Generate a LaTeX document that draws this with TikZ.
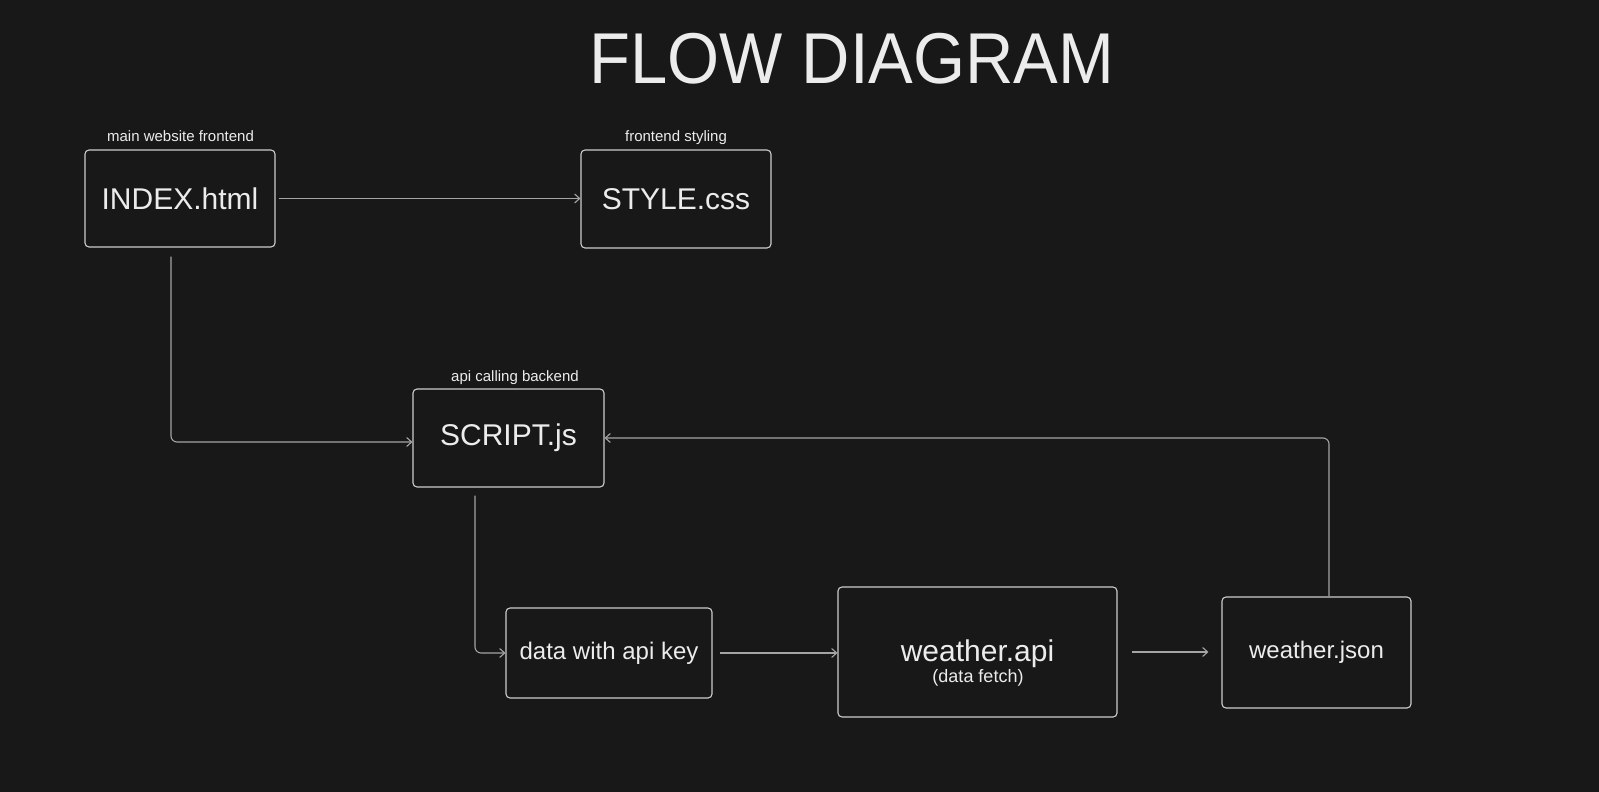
\documentclass[tikz,border=0pt]{standalone}
\usepackage{fontspec}
\setmainfont{Liberation Sans}
\usetikzlibrary{arrows.meta}
\definecolor{bg}{RGB}{24,24,24}
\definecolor{boxline}{RGB}{205,205,205}
\definecolor{arrowline}{RGB}{165,165,165}
\definecolor{txt}{RGB}{236,236,236}
\begin{document}
\begin{tikzpicture}[x=1pt,y=-1pt,
  box/.style={draw=boxline, line width=1.1pt, rounded corners=4pt, inner sep=0pt, text=txt, font=\fontsize{30}{30}\selectfont},
  smallbox/.style={box, font=\fontsize{24}{24}\selectfont},
  conn/.style={draw=arrowline, line width=1.1pt, rounded corners=6pt, -{Straight Barb[length=5pt,width=9pt]}},
  lbl/.style={text=txt, font=\fontsize{15}{15}\selectfont, anchor=base, inner sep=0pt},
]
\fill[bg] (0,0) rectangle (1599,792);
\useasboundingbox (0,0) rectangle (1599,792);

% title
\node[anchor=base, inner sep=0pt, text=txt, font=\fontsize{72}{72}\selectfont] (title) at (852,84) {\scalebox{0.93}[1]{FLOW DIAGRAM}};

% boxes
\node[box, minimum width=190pt, minimum height=97pt] (index) at (180,198.5) {INDEX.html};
\node[box, minimum width=190pt, minimum height=98pt] (style) at (676,199) {STYLE.css};
\node[box, minimum width=191pt, minimum height=98pt] (script) at (508.5,438) {SCRIPT.js};
\node[smallbox, minimum width=206pt, minimum height=90pt] (data) at (609,653) {data with api key};
\node[box, minimum width=279pt, minimum height=130pt] (wapi) at (977.5,652) {};
\node[smallbox, minimum width=189pt, minimum height=111pt] (json) at (1316.5,652.5) {weather.json};

% texts in weather.api box
\node[anchor=base, inner sep=0pt, text=txt, font=\fontsize{30}{30}\selectfont] (wapit) at (977.5,661) {weather.api};
\node[anchor=base, inner sep=0pt, text=txt, font=\fontsize{18}{18}\selectfont] (wapis) at (978,682) {(data fetch)};

% labels
\node[lbl] (l1) at (180.5,141.5) {main website frontend};
\node[lbl] (l2) at (676,141.5) {frontend styling};
\node[lbl] (l3) at (515,381) {api calling backend};

% connectors
\draw[conn] ([xshift=3pt]index.east) -- (index.east -| style.west);
\draw[conn] ([xshift=-9pt,yshift=-9pt]index.south) |- ([yshift=-4pt]script.west);
\draw[conn] ([xshift=-33.5pt,yshift=-8pt]script.south) |- (data.west);
\draw[conn] ([xshift=7pt]data.east) -- (data.east -| wapi.west);
\draw[conn] ([xshift=14pt]wapi.east) -- ([xshift=-13pt]wapi.east -| json.west);
\draw[conn] ([xshift=12.5pt]json.north) |- (script.east);
\end{tikzpicture}
\end{document}
